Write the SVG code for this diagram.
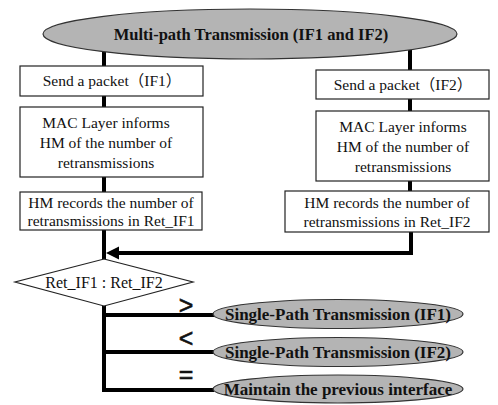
<svg xmlns="http://www.w3.org/2000/svg" width="498" height="405" viewBox="0 0 498 405">
<defs>
<style>
.bg{fill:#ffffff}
.box{fill:#ffffff;stroke:#222;stroke-width:1.2}
.ell{fill:#b4b4b4;stroke:#333;stroke-width:1.2}
.t{font-family:"Liberation Serif","Times New Roman",serif;font-size:15.5px;fill:#111;text-anchor:middle}
.cjk{font-family:"Noto Sans CJK SC",sans-serif}
.b{font-family:"Liberation Serif","Times New Roman",serif;font-weight:bold;font-size:17px;fill:#111;text-anchor:middle}
.op{font-family:"Liberation Sans",sans-serif;font-size:25px;fill:#111;stroke:#111;stroke-width:0.6;text-anchor:middle}
.c{fill:none;stroke:#000;stroke-width:4}
</style>
</defs>
<rect class="bg" x="0" y="0" width="498" height="405"/>
<g id="connectors">
<line class="c" x1="104" y1="50" x2="104" y2="67"/>
<line class="c" x1="410" y1="48" x2="410" y2="71"/>
<line class="c" x1="104" y1="96" x2="104" y2="108"/>
<line class="c" x1="410" y1="99" x2="410" y2="112"/>
<line class="c" x1="104" y1="177" x2="104" y2="193"/>
<line class="c" x1="410" y1="181" x2="410" y2="192"/>
<line class="c" x1="104" y1="230" x2="104" y2="260"/>
<polyline class="c" points="411,232 411,253 118,253"/>
<path d="M119,246.5 L106,253 L119,259.5 Z" fill="#000"/>
<polyline class="c" points="104,306 104,390 214,390"/>
<line class="c" x1="104" y1="315" x2="214" y2="315"/>
<line class="c" x1="104" y1="352" x2="214" y2="352"/>
<text class="op" x="186" y="314">&gt;</text>
<text class="op" x="186" y="347">&lt;</text>
<text class="op" x="186" y="383">=</text>
</g>
<g id="start">
<ellipse class="ell" cx="250" cy="34" rx="207" ry="25"/>
<text class="b" x="251" y="40" style="font-size:16.5px">Multi-path Transmission (IF1 and IF2)</text>
</g>
<g id="send1">
<rect class="box" x="20" y="66" width="183" height="30"/>
<text class="t" x="112" y="86">Send a packet<tspan class="cjk">（</tspan>IF1<tspan class="cjk">）</tspan></text>
</g>
<g id="send2">
<rect class="box" x="316" y="70" width="173" height="29"/>
<text class="t" x="403" y="90">Send a packet<tspan class="cjk">（</tspan>IF2<tspan class="cjk">）</tspan></text>
</g>
<g id="mac1">
<rect class="box" x="20" y="107" width="183" height="70"/>
<text class="t" x="106" y="128">MAC Layer informs</text>
<text class="t" x="106" y="148">HM of the number of</text>
<text class="t" x="106" y="168">retransmissions</text>
</g>
<g id="mac2">
<rect class="box" x="316" y="111" width="173" height="70"/>
<text class="t" x="403" y="132">MAC Layer informs</text>
<text class="t" x="403" y="152">HM of the number of</text>
<text class="t" x="403" y="172">retransmissions</text>
</g>
<g id="rec1">
<rect class="box" x="20" y="192" width="182" height="38"/>
<text class="t" x="111" y="208">HM records the number of</text>
<text class="t" x="111" y="226">retransmissions in Ret_IF1</text>
</g>
<g id="rec2">
<rect class="box" x="285" y="191" width="204" height="41"/>
<text class="t" x="387" y="208">HM records the number of</text>
<text class="t" x="387" y="227">retransmissions in Ret_IF2</text>
</g>
<g id="decision">
<polygon points="104,259 193,282 104,306 15,282" fill="#fff" stroke="#222" stroke-width="1.2"/>
<text class="t" x="104" y="288" style="font-size:16px">Ret_IF1 : Ret_IF2</text>
</g>
<g id="single1">
<ellipse class="ell" cx="338" cy="314" rx="125" ry="14.5"/>
<text class="b" x="338" y="320">Single-Path Transmission (IF1)</text>
</g>
<g id="single2">
<ellipse class="ell" cx="338" cy="352" rx="125" ry="14.5"/>
<text class="b" x="338" y="358">Single-Path Transmission (IF2)</text>
</g>
<g id="maintain">
<ellipse class="ell" cx="338" cy="389" rx="125" ry="14"/>
<text class="b" x="338" y="395">Maintain the previous interface</text>
</g>
</svg>
